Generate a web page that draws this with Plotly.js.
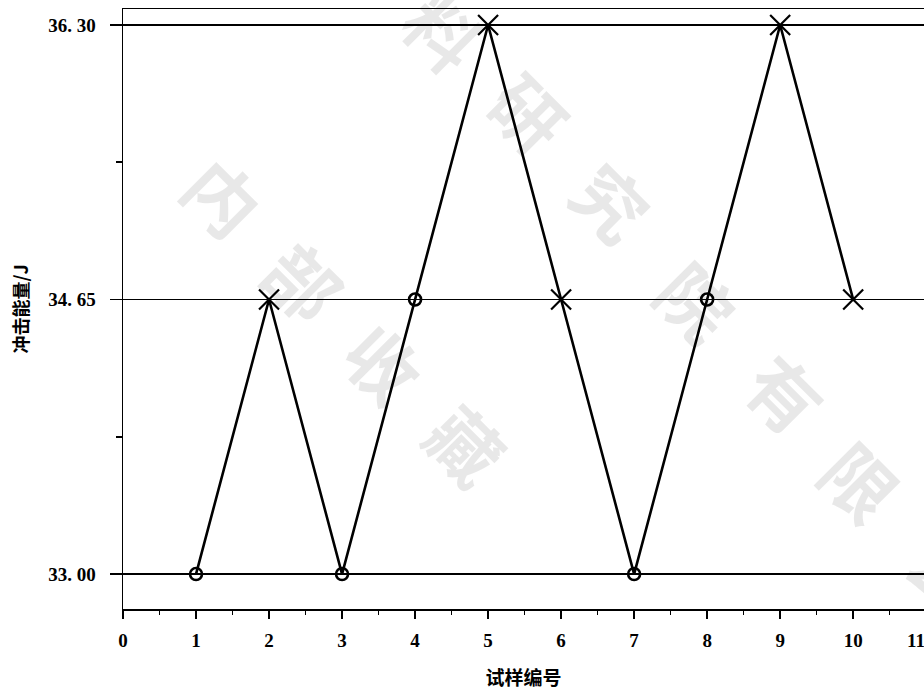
<!DOCTYPE html>
<html>
<head>
<meta charset="utf-8">
<script src="https://cdn.plot.ly/plotly-3.0.1.min.js"></script>
<style>html,body{margin:0;padding:0;background:#fff;}#chart{width:924px;height:690px;}</style>
</head>
<body>
<div id="chart"></div>
<script>
// ---- data ----
const trialNo = [1, 2, 3, 4, 5, 6, 7, 8, 9, 10];
const energy = [33.00, 34.65, 33.00, 34.65, 36.30, 34.65, 33.00, 34.65, 36.30, 34.65];
const result = ['o', 'x', 'o', 'o', 'x', 'x', 'o', 'o', 'x', 'x'];
const levels = [33.00, 34.65, 36.30];
const levelLabels = ['33. 00', '34. 65', '36. 30'];
const minorLevels = [33.825, 35.475];
const xTicks = [0, 1, 2, 3, 4, 5, 6, 7, 8, 9, 10];
const xMinorTicks = [0.5, 1.5, 2.5, 3.5, 4.5, 5.5, 6.5, 7.5, 8.5, 9.5, 10.5];
const lastXLabel = '11';
const xTitle = '试样编号';
const yTitle = '冲击能量/J';
const watermark1 = ['内', '部', '收', '藏'];
const watermark2 = ['料', '研', '究', '院', '有', '限', '公'];

// ---- build ----
const oX = [], oY = [], xX = [], xY = [];
trialNo.forEach((t, i) => {
  if (result[i] === 'o') { oX.push(t); oY.push(energy[i]); }
  else { xX.push(t); xY.push(energy[i]); }
});

const traces = [
  { x: trialNo, y: energy, type: 'scatter', mode: 'lines',
    line: { color: '#000', width: 2.6 }, hoverinfo: 'skip', showlegend: false },
  { x: oX, y: oY, type: 'scatter', mode: 'markers',
    marker: { symbol: 'circle-open', size: 12, color: '#000', line: { color: '#000', width: 2.6 } },
    showlegend: false, cliponaxis: false },
  { x: xX, y: xY, type: 'scatter', mode: 'markers',
    marker: { symbol: 'x-thin-open', size: 20, color: '#000', line: { color: '#000', width: 2.2 } },
    showlegend: false, cliponaxis: false }
];

const W = 924, H = 690, L = 123, R = 0, T = 9, B = 81;
const px = (x) => (x - L) / (W - L - R);
const py = (y) => (H - B - y) / (H - T - B);

const annotations = [];
const wmFont = { family: 'Noto Sans CJK SC', size: 72, color: 'rgba(0,0,0,0.09)', weight: 'bold' };
const wm1Pos = [[225, 195], [305, 280], [385, 362], [468, 443]];
watermark1.forEach((c, i) => annotations.push({
  text: c, xref: 'paper', yref: 'paper', x: px(wm1Pos[i][0]), y: py(wm1Pos[i][1]),
  showarrow: false, textangle: 45, font: wmFont, xanchor: 'center', yanchor: 'middle'
}));
const wm2Pos = [[445, 30], [530, 112], [613, 200], [698, 300], [787, 392], [862, 480], [948, 572]];
watermark2.forEach((c, i) => annotations.push({
  text: c, xref: 'paper', yref: 'paper', x: px(wm2Pos[i][0]), y: py(wm2Pos[i][1]),
  showarrow: false, textangle: 45, font: wmFont, xanchor: 'center', yanchor: 'middle'
}));
annotations.push({
  text: lastXLabel, xref: 'paper', yref: 'paper', x: px(916), y: py(641),
  showarrow: false, xanchor: 'center', yanchor: 'middle',
  font: { family: 'Liberation Serif', size: 19, color: '#000', weight: 'bold' }
});

const layout = {
  width: W, height: H,
  margin: { l: L, r: R, t: T, b: B, pad: 0 },
  paper_bgcolor: '#fff', plot_bgcolor: '#fff',
  showlegend: false,
  xaxis: {
    range: [0, 10.97], tickmode: 'array', tickvals: xTicks, ticktext: xTicks.map(String),
    ticks: 'outside', ticklen: 8, tickwidth: 1.5, tickcolor: '#000',
    minor: { tickmode: 'array', tickvals: xMinorTicks, ticks: 'outside', ticklen: 4, tickwidth: 1.5, tickcolor: '#000', showgrid: false },
    showline: true, linecolor: '#000', linewidth: 1.5, mirror: true,
    showgrid: false, zeroline: false,
    tickfont: { family: 'Liberation Serif', size: 19, color: '#000', weight: 'bold' },
    ticklabelstandoff: 6,
    title: { text: xTitle, standoff: 22,
      font: { family: 'Noto Sans CJK SC', size: 19, color: '#000', weight: 'bold' } }
  },
  yaxis: {
    range: [32.79, 36.396], tickmode: 'array', tickvals: levels, ticktext: levelLabels,
    ticks: 'outside', ticklen: 12, tickwidth: 1.5, tickcolor: '#000',
    minor: { tickmode: 'array', tickvals: minorLevels, ticks: 'outside', ticklen: 6, tickwidth: 1.5, tickcolor: '#000', showgrid: false },
    showline: true, linecolor: '#000', linewidth: 1.5, mirror: false,
    showgrid: true, gridcolor: '#000', gridwidth: 1.2, zeroline: false,
    tickfont: { family: 'Liberation Serif', size: 19, color: '#000', weight: 'bold' },
    ticklabelstandoff: 10,
    title: { text: yTitle, standoff: 15,
      font: { family: 'Noto Sans CJK SC', size: 18, color: '#000', weight: 'bold' } }
  },
  annotations: annotations
};

Plotly.newPlot('chart', traces, layout, { staticPlot: true, displayModeBar: false });
</script>
</body>
</html>
